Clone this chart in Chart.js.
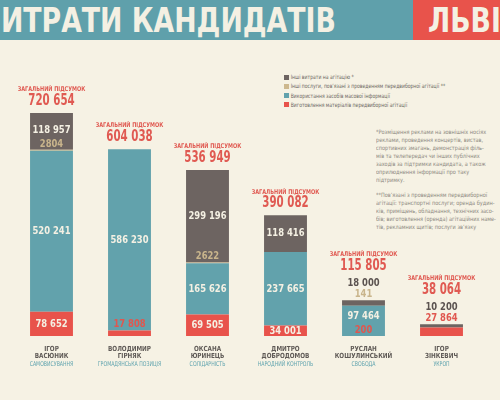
<!DOCTYPE html>
<html lang="uk">
<head>
<meta charset="utf-8">
<title>Витрати кандидатів</title>
<script src="https://cdn.jsdelivr.net/npm/chart.js@4.4.0/dist/chart.umd.min.js"></script>
<style>
  body { margin: 0; background: #f6f2e4; font-family: 'DejaVu Sans Condensed', 'DejaVu Sans', sans-serif; }
  #page { position: relative; width: 500px; height: 400px; overflow: hidden; }
  .band { position: absolute; left: 0; top: 0; width: 413px; height: 40px; background: #5fa0ab; }
  .band-red { position: absolute; left: 413px; top: 0; width: 87px; height: 40px; background: #e8534b; }
  .title { position: absolute; top: 0; height: 40px; line-height: 41px; color: #f4f0e3; font-weight: bold; font-size: 33px; white-space: nowrap; transform: scaleX(0.9); transform-origin: left center; }
  #legend { position: absolute; left: 284px; top: 72px; font-size: 6px; color: #6b6762; transform: scaleX(0.84); transform-origin: left top; }
  #legend div { height: 9.3px; line-height: 9.3px; white-space: nowrap; }
  #legend span { display: inline-block; width: 6px; height: 5px; margin-right: 2px; vertical-align: -0.5px; }
  .notes { position: absolute; left: 376px; font-size: 6px; line-height: 8px; color: #8c8880; white-space: nowrap; transform: scaleX(0.92); transform-origin: left top; }
  #wrap { position: absolute; left: 0; top: 0; width: 500px; height: 400px; }
</style>
</head>
<body>
<div id="page">
  <div class="band"></div>
  <div class="band-red"></div>
  <div class="title" style="left:1px">ИТРАТИ КАНДИДАТІВ</div>
  <div class="title" style="left:428px">ЛЬВІ</div>
  <div id="legend"></div>
  <div class="notes" style="top:128px">*Розміщення реклами на зовнішніх носіях<br>реклами, проведення концертів, вистав,<br>спортивних змагань, демонстрація філь-<br>мів та телепередач чи інших публічних<br>заходів за підтримки кандидата, а також<br>оприлюднення інформації про таку<br>підтримку.</div>
  <div class="notes" style="top:191px">**Пов’язані з проведенням передвиборної<br>агітації: транспортні послуги; оренда будин-<br>ків, приміщень, обладнання, технічних засо-<br>бів; виготовлення (оренда) агітаційних наме-<br>тів, рекламних щитів; послуги зв’язку</div>
  <div id="wrap"><canvas id="chart"></canvas></div>
</div>
<script>
const firstNames = ['ІГОР', 'ВОЛОДИМИР', 'ОКСАНА', 'ДМИТРО', 'РУСЛАН', 'ІГОР'];
const lastNames = ['ВАСЮНИК', 'ГІРНЯК', 'ЮРИНЕЦЬ', 'ДОБРОДОМОВ', 'КОШУЛИНСЬКИЙ', 'ЗІНКЕВИЧ'];
const parties = ['САМОВИСУВАННЯ', 'ГРОМАДЯНСЬКА ПОЗИЦІЯ', 'СОЛІДАРНІСТЬ', 'НАРОДНИЙ КОНТРОЛЬ', 'СВОБОДА', 'УКРОП'];

const materials = [78652, 17808, 69505, 34001, 200, 27864];
const media = [520241, 586230, 165626, 237665, 97464, 0];
const otherServices = [2804, 0, 2622, 0, 141, 0];
const otherCosts = [118957, 0, 299196, 118416, 18000, 10200];
const totals = [720654, 604038, 536949, 390082, 115805, 38064];

const FONT = "'DejaVu Sans Condensed', 'DejaVu Sans', sans-serif";

const datasets = [
  { label: 'Виготовлення матеріалів передвиборної агітації', data: materials, backgroundColor: '#e8534b', textColor: '#e0574f' },
  { label: 'Використання засобів масової інформації', data: media, backgroundColor: '#62a2ac', textColor: '#62a2ac' },
  { label: 'Інші послуги, пов’язані з проведенням передвиборної агітації **', data: otherServices, backgroundColor: '#cdb88e', textColor: '#c9b58c' },
  { label: 'Інші витрати на агітацію *', data: otherCosts, backgroundColor: '#6d6461', textColor: '#5b5350' }
];

// legend, top to bottom = reverse stacking order
const legend = document.getElementById('legend');
datasets.slice().reverse().forEach(ds => {
  const row = document.createElement('div');
  row.innerHTML = '<span style="background:' + ds.backgroundColor + '"></span>' + ds.label;
  legend.appendChild(row);
});

function fmt(v) {
  const s = String(v);
  return v >= 10000 ? s.replace(/\B(?=(\d{3})+(?!\d))/g, ' ') : s;
}

// narrow text: the original uses a condensed face
function text(ctx, str, x, y, font, color, squeeze) {
  ctx.save();
  ctx.font = font;
  ctx.fillStyle = color;
  ctx.translate(x, y);
  ctx.scale(squeeze, 1);
  ctx.fillText(str, 0, 0);
  ctx.restore();
}

const barLabels = {
  id: 'barLabels',
  afterDatasetsDraw(chart) {
    const ctx = chart.ctx;
    const xs = chart.scales.x;
    const valueFont = 'bold 11px ' + FONT;
    ctx.save();
    ctx.textAlign = 'center';
    ctx.textBaseline = 'middle';
    totals.forEach((total, i) => {
      const cx = xs.getPixelForValue(i);
      let top = null;
      let inChain = true;
      const chain = [];
      const inside = [];
      for (let d = datasets.length - 1; d >= 0; d--) {
        const ds = datasets[d];
        const value = ds.data[i];
        if (!value) continue;
        const bar = chart.getDatasetMeta(d).data[i];
        const h = bar.base - bar.y;
        if (top === null) top = bar.y;
        const small = h < 9.5;
        if (small && inChain) { chain.push(d); continue; }
        inChain = false;
        if (small) {
          const y = bar.y - 6;
          const prev = inside[inside.length - 1];
          if (prev && prev.y > y - 14) prev.y = y - 14;
          inside.push({ str: fmt(value), y: y, color: ds.textColor });
        } else {
          inside.push({ str: fmt(value), y: (bar.y + bar.base) / 2, color: '#f4f0e3' });
        }
      }
      inside.forEach(l => text(ctx, l.str, cx, l.y, valueFont, l.color, 0.85));

      // small segments on top of the bar get their labels above it
      let cursor = top;
      chain.reverse().forEach(d => {
        const ds = datasets[d];
        text(ctx, fmt(ds.data[i]), cx, cursor - 6, valueFont, ds.textColor, 0.85);
        cursor -= 11;
      });
      text(ctx, fmt(total), cx, cursor - 12, 'bold 15px ' + FONT, '#e05a52', 0.76);
      text(ctx, 'ЗАГАЛЬНИЙ ПІДСУМОК', cx, cursor - 23.5, 'bold 6.5px ' + FONT, '#e05a52', 0.85);

      // candidate names under the bars
      text(ctx, firstNames[i], cx, 349, 'bold 7px ' + FONT, '#5e5955', 0.9);
      text(ctx, lastNames[i], cx, 356.5, 'bold 7px ' + FONT, '#5e5955', 0.9);
      text(ctx, parties[i], cx, 364.5, '6.5px ' + FONT, '#5ea3ae', 0.8);
    });
    ctx.restore();
  }
};

new Chart(document.getElementById('chart'), {
  type: 'bar',
  data: {
    labels: lastNames,
    datasets: datasets.map(ds => ({
      label: ds.label,
      data: ds.data,
      backgroundColor: ds.backgroundColor,
      borderWidth: 0,
      barPercentage: 1,
      categoryPercentage: 0.55
    }))
  },
  options: {
    responsive: true,
    maintainAspectRatio: false,
    animation: false,
    layout: { padding: { left: 12.5, right: 19.5, top: 88.5, bottom: 64 } },
    scales: {
      x: { stacked: true, display: false },
      y: { stacked: true, display: false, min: 0, max: 800000 }
    },
    plugins: {
      legend: { display: false },
      tooltip: { enabled: false }
    }
  },
  plugins: [barLabels]
});
</script>
</body>
</html>
